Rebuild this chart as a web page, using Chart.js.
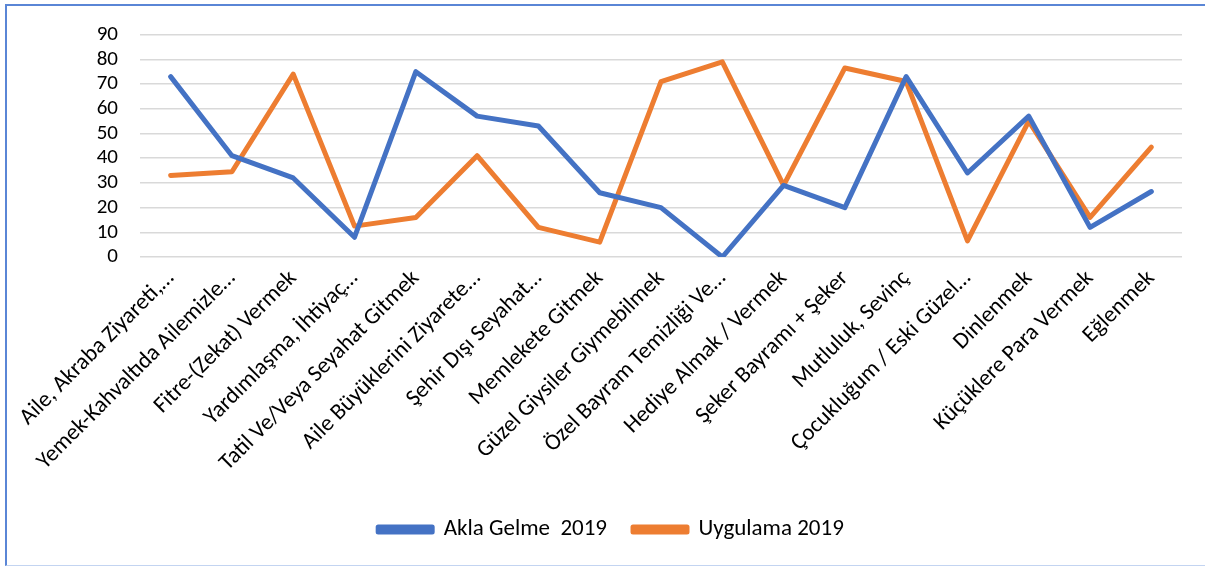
<!DOCTYPE html>
<html>
<head>
<meta charset="utf-8">
<script src="https://cdn.jsdelivr.net/npm/chart.js@4/dist/chart.umd.min.js"></script>
<style>
  html, body { margin: 0; padding: 0; background: #fff; }
  #frame {
    position: absolute; left: 5px; top: 4px; width: 1210px; height: 562px;
    box-sizing: border-box;
    border-left: 2px solid #5a86d6; border-top: 2px solid #5a86d6;
    border-bottom: 1px solid #c3d4f1;
  }
  #wrap { position: absolute; left: 0; top: 0; width: 1205px; height: 567px; }
</style>
</head>
<body>
<div id="frame"></div>
<div id="wrap"><canvas id="chart"></canvas></div>
<script>
// categories (Excel truncates the long ones with an ellipsis)
const categories = [
  'Aile, Akraba Ziyareti,…',
  'Yemek-Kahvaltıda Ailemizle…',
  'Fitre-(Zekat) Vermek',
  'Yardımlaşma, İhtiyaç…',
  'Tatil Ve/Veya Seyahat Gitmek',
  'Aile Büyüklerini Ziyarete…',
  'Şehir Dışı Seyahat…',
  'Memlekete Gitmek',
  'Güzel Giysiler Giymebilmek',
  'Özel Bayram Temizliği Ve…',
  'Hediye Almak / Vermek',
  'Şeker Bayramı + Şeker',
  'Mutluluk, Sevinç',
  'Çocukluğum / Eski Güzel…',
  'Dinlenmek',
  'Küçüklere Para Vermek',
  'Eğlenmek'
];

const aklaGelme = [73, 41, 32, 8, 75, 57, 53, 26, 20, 0, 29, 20, 73, 34, 57, 12, 26.5];
const uygulama  = [33, 34.5, 74, 12.5, 16, 41, 12, 6, 71, 79, 29, 76.5, 71, 6.5, 55, 16, 44.5];

const yTicks = [0, 10, 20, 30, 40, 50, 60, 70, 80, 90];

const FONT = "Carlito, Calibri, Lato, sans-serif";

new Chart(document.getElementById('chart'), {
  type: 'line',
  data: {
    labels: categories,
    datasets: [
      {
        label: 'Akla Gelme  2019',
        data: aklaGelme,
        borderColor: '#4472C4',
        backgroundColor: '#4472C4',
        borderWidth: 5,
        borderCapStyle: 'round',
        borderJoinStyle: 'round',
        pointRadius: 0,
        tension: 0
      },
      {
        label: 'Uygulama 2019',
        data: uygulama,
        borderColor: '#ED7D31',
        backgroundColor: '#ED7D31',
        borderWidth: 5,
        borderCapStyle: 'round',
        borderJoinStyle: 'round',
        pointRadius: 0,
        tension: 0
      }
    ]
  },
  options: {
    responsive: true,
    maintainAspectRatio: false,
    animation: false,
    // left padding shifts the centred legend to where Excel put it
    layout: { padding: { top: 33, right: 23, bottom: 16, left: 40 } },
    plugins: {
      tooltip: { enabled: false },
      legend: {
        position: 'bottom',
        labels: {
          boxWidth: 54,
          boxHeight: 5,
          padding: 26,
          color: '#000',
          font: { family: FONT, size: 23 }
        }
      }
    },
    scales: {
      x: {
        offset: true,
        grid: { display: false },
        border: { display: false },
        ticks: {
          color: '#000',
          font: { family: FONT, size: 23 },
          minRotation: 45,
          maxRotation: 45,
          autoSkip: false,
          padding: 0
        },
        afterFit: (scale) => { scale.height = 235; }
      },
      y: {
        min: 0,
        max: 90,
        afterBuildTicks: (scale) => { scale.ticks = yTicks.map(v => ({ value: v })); },
        grid: { color: '#d9d9d9', lineWidth: 1.5, drawTicks: false },
        border: { display: false },
        ticks: {
          color: '#000',
          font: { family: FONT, size: 21 },
          autoSkip: false,
          padding: 22
        },
        afterFit: (scale) => { scale.width = 100; }
      }
    }
  }
});
</script>
</body>
</html>
